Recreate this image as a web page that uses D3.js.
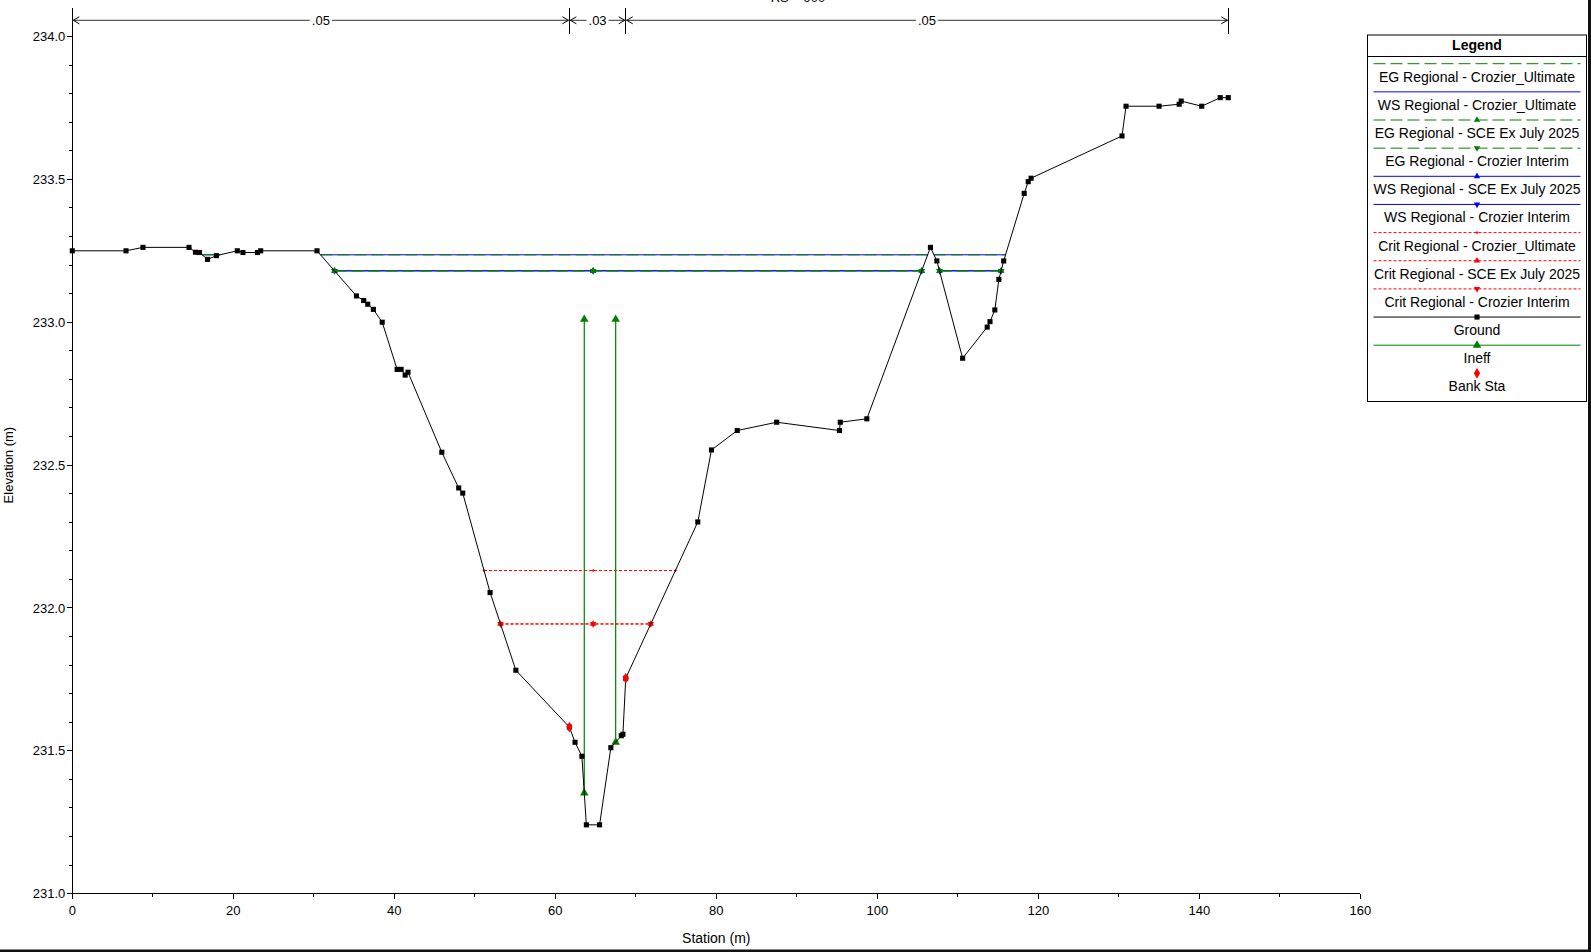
<!DOCTYPE html>
<html>
<head>
<meta charset="utf-8">
<script src="https://cdn.jsdelivr.net/npm/d3@7"></script>
<style>
  html, body { margin: 0; padding: 0; background: #fff; }
  svg { display: block; font-family: "Liberation Sans", Arial, sans-serif; }
</style>
</head>
<body>
<svg id="chart" width="1591" height="952"></svg>
<script>
// ---------------- DATA ----------------
const groundSta = [0, 6.67, 8.78, 14.5, 15.3, 15.8, 16.8, 17.9, 20.5, 21.2, 23.0, 23.4, 30.4,
  35.3, 36.2, 36.7, 37.4, 38.5, 40.35, 40.85, 41.35, 41.7, 45.9, 48.0, 48.5, 51.9, 55.1,
  61.75, 62.45, 63.3, 63.86, 65.5, 66.9, 68.2, 68.4, 68.75, 77.7, 79.4, 82.6, 87.5, 95.3,
  95.4, 98.7, 106.6, 107.4, 110.6, 113.65, 114.0, 114.6, 115.1, 115.7, 118.25, 118.75,
  119.1, 130.4, 130.9, 135.0, 137.5, 137.75, 140.3, 142.6, 143.6];
const groundElev = [233.25, 233.25, 233.262, 233.262, 233.245, 233.244, 233.22, 233.233, 233.25,
  233.244, 233.244, 233.25, 233.25, 233.092, 233.076, 233.063, 233.045, 233.0, 232.835,
  232.835, 232.815, 232.825, 232.545, 232.42, 232.402, 232.054, 231.782, 231.583, 231.53,
  231.481, 231.241, 231.241, 231.511, 231.553, 231.558, 231.754, 232.301, 232.553, 232.621,
  232.65, 232.621, 232.65, 232.662, 233.262, 233.2145, 232.874, 232.983, 233.002, 233.043,
  233.15, 233.2145, 233.451, 233.492, 233.504, 233.652, 233.756, 233.756, 233.763, 233.774,
  233.756, 233.786, 233.786];

const bankSta = [61.75, 68.75];
const nBreakSta = [0, 61.75, 68.75, 143.6];
const nValues = [".05", ".03", ".05"];
const ineffSta = [63.6, 67.5];
const ineffElev = [233.01, 233.01];

const planNames = ["Crozier_Ultimate", "SCE Ex July 2025", "Crozier Interim"];
const egElev   = [233.236, 233.18, 233.18];
const wsElev   = [233.236, 233.18, 233.18];
const critElev = [232.131, 231.944, 231.944];
const centerMarkSta = 64.7;

const xTicks = [0, 20, 40, 60, 80, 100, 120, 140, 160];
const yTicks = [231.0, 231.5, 232.0, 232.5, 233.0, 233.5, 234.0];

const legendLabels = [
  "EG Regional - Crozier_Ultimate",
  "WS Regional - Crozier_Ultimate",
  "EG Regional - SCE Ex July 2025",
  "EG Regional - Crozier Interim",
  "WS Regional - SCE Ex July 2025",
  "WS Regional - Crozier Interim",
  "Crit Regional - Crozier_Ultimate",
  "Crit Regional - SCE Ex July 2025",
  "Crit Regional - Crozier Interim",
  "Ground",
  "Ineff",
  "Bank Sta"
];

// ---------------- STYLE ----------------
const GREEN = "#008000", BLUE = "#0000ff", RED = "#ff0000", BLACK = "#000";
const EG_DASH = "12,5", CRIT_DASH = "3,2";
const planMarker = ["none", "up", "down"];

const svg = d3.select("#chart");
const x = d3.scaleLinear().domain([0, 160]).range([72.3, 1360.3]);
const y = d3.scaleLinear().domain([231, 234]).range([893.7, 36.5]);

const ground = groundSta.map((s, i) => ({s, e: groundElev[i]}));

function groundAt(s) {
  for (let i = 1; i < ground.length; i++) {
    if (s <= ground[i].s) {
      const a = ground[i - 1], b = ground[i];
      return a.e + (s - a.s) / (b.s - a.s) * (b.e - a.e);
    }
  }
  return ground[ground.length - 1].e;
}

function wetSegments(level) {
  const segs = [];
  let cur = null;
  for (let i = 1; i < ground.length; i++) {
    const a = ground[i - 1], b = ground[i];
    const aBelow = a.e < level, bBelow = b.e < level;
    if (aBelow !== bBelow) {
      const t = (level - a.e) / (b.e - a.e);
      const s = a.s + t * (b.s - a.s);
      if (bBelow) cur = [s];
      else if (cur) { cur.push(s); segs.push(cur); cur = null; }
    }
  }
  return segs;
}

function markerStations(segs) {
  const out = [];
  segs.forEach(sg => {
    out.push(sg[0]);
    if (centerMarkSta > sg[0] && centerMarkSta < sg[1]) out.push(centerMarkSta);
    out.push(sg[1]);
  });
  return out;
}

const tri = d3.symbol().type(d3.symbolTriangle);
function drawMarker(g, kind, px, py, color, size) {
  if (kind === "none") return;
  if (kind === "up" || kind === "down") {
    g.append("path").attr("d", tri.size(size)())
      .attr("transform", `translate(${px},${py})` + (kind === "down" ? " rotate(180)" : ""))
      .attr("fill", color);
  } else if (kind === "plus") {
    g.append("path").attr("d", `M${px-1.5},${py}H${px+1.5}M${px},${py-1.5}V${py+1.5}`)
      .attr("stroke", color).attr("stroke-width", 1);
  } else if (kind === "diamond") {
    g.append("path").attr("d", d3.symbol().type(d3.symbolDiamond).size(size)())
      .attr("transform", `translate(${px},${py})`).attr("fill", color);
  } else if (kind === "square") {
    g.append("path").attr("d", d3.symbol().type(d3.symbolSquare).size(size)())
      .attr("transform", `translate(${px},${py})`).attr("fill", color);
  }
}

function drawLevel(g, level, color, dash, marker, msize) {
  const segs = wetSegments(level);
  segs.forEach(sg => {
    g.append("line")
      .attr("x1", x(sg[0])).attr("x2", x(sg[1]))
      .attr("y1", y(level)).attr("y2", y(level))
      .attr("stroke", color).attr("stroke-width", 1)
      .attr("stroke-dasharray", dash || null);
  });
  markerStations(segs).forEach(s => drawMarker(g, marker, x(s), y(level), color, msize));
}

// ---------------- AXES ----------------
const axG = svg.append("g").attr("font-size", 13).attr("fill", "#000");
axG.append("line").attr("x1", x(0)).attr("x2", x(0)).attr("y1", 8).attr("y2", y(231))
  .attr("stroke", "#000").attr("stroke-width", 1).attr("shape-rendering", "crispEdges");
axG.append("line").attr("x1", x(0)).attr("x2", x(160)).attr("y1", y(231)).attr("y2", y(231))
  .attr("stroke", "#000").attr("stroke-width", 1).attr("shape-rendering", "crispEdges");

const yMinor = d3.range(231, 234.001, 0.1);
yMinor.forEach(v => {
  axG.append("line").attr("x1", x(0) - 3).attr("x2", x(0)).attr("y1", y(v)).attr("y2", y(v))
    .attr("stroke", "#000").attr("shape-rendering", "crispEdges");
});
yTicks.forEach(v => {
  axG.append("line").attr("x1", x(0) - 5).attr("x2", x(0)).attr("y1", y(v)).attr("y2", y(v))
    .attr("stroke", "#000").attr("shape-rendering", "crispEdges");
  axG.append("text").attr("x", x(0) - 7).attr("y", y(v)).attr("dy", "0.35em")
    .attr("text-anchor", "end").text(d3.format(".1f")(v));
});
d3.range(10, 160, 20).forEach(v => {
  axG.append("line").attr("x1", x(v)).attr("x2", x(v)).attr("y1", y(231)).attr("y2", y(231) + 3)
    .attr("stroke", "#000").attr("shape-rendering", "crispEdges");
});
xTicks.forEach(v => {
  axG.append("line").attr("x1", x(v)).attr("x2", x(v)).attr("y1", y(231)).attr("y2", y(231) + 5)
    .attr("stroke", "#000").attr("shape-rendering", "crispEdges");
  axG.append("text").attr("x", x(v)).attr("y", y(231) + 21)
    .attr("text-anchor", "middle").text(v);
});
axG.append("text").attr("x", x(80)).attr("y", 943).attr("text-anchor", "middle")
  .attr("font-size", 14).text("Station (m)");
axG.append("text").attr("transform", `translate(13,${(y(231) + y(234)) / 2}) rotate(-90)`)
  .attr("text-anchor", "middle").attr("font-size", 13).text("Elevation (m)");

// title (cut off at the top edge, as in the reference)
svg.append("text").attr("x", 798).attr("y", 1.5).attr("text-anchor", "middle")
  .attr("font-size", 13).text("RS = 900");

// ---------------- MANNING n BAR ----------------
const nG = svg.append("g");
const nY = 20.3;
nBreakSta.forEach(s => {
  nG.append("line").attr("x1", x(s)).attr("x2", x(s)).attr("y1", 8).attr("y2", 34)
    .attr("stroke", "#000").attr("shape-rendering", "crispEdges");
});
nValues.forEach((v, i) => {
  const a = x(nBreakSta[i]), b = x(nBreakSta[i + 1]);
  nG.append("line").attr("x1", a).attr("x2", b).attr("y1", nY).attr("y2", nY)
    .attr("stroke", "#333").attr("stroke-width", 1);
  nG.append("path").attr("d", `M${a+7},${nY-3.5}L${a+1},${nY}L${a+7},${nY+3.5}`)
    .attr("fill", "none").attr("stroke", "#000");
  nG.append("path").attr("d", `M${b-7},${nY-3.5}L${b-1},${nY}L${b-7},${nY+3.5}`)
    .attr("fill", "none").attr("stroke", "#000");
  const t = nG.append("text").attr("x", (a + b) / 2).attr("y", nY).attr("dy", "0.38em")
    .attr("text-anchor", "middle").attr("font-size", 13).text(v);
  const bb = t.node().getBBox();
  nG.insert("rect", "text:last-child").attr("x", bb.x - 2).attr("y", nY - 2)
    .attr("width", bb.width + 4).attr("height", 4).attr("fill", "#fff");
});

// ---------------- WATER LINES ----------------
const wG = svg.append("g");
planNames.forEach((p, i) => drawLevel(wG, wsElev[i], BLUE, null, planMarker[i], 18));
planNames.forEach((p, i) => drawLevel(wG, egElev[i], GREEN, EG_DASH, planMarker[i], 18));
planNames.forEach((p, i) => drawLevel(wG, critElev[i], RED, CRIT_DASH, i === 0 ? "plus" : planMarker[i], 18));

// ---------------- INEFF ----------------
const iG = svg.append("g");
ineffSta.forEach((s, i) => {
  const e0 = groundAt(s);
  iG.append("line").attr("x1", x(s)).attr("x2", x(s)).attr("y1", y(e0)).attr("y2", y(ineffElev[i]))
    .attr("stroke", GREEN).attr("stroke-width", 1.2);
  drawMarker(iG, "up", x(s), y(e0), GREEN, 32);
  drawMarker(iG, "up", x(s), y(ineffElev[i]), GREEN, 32);
});

// ---------------- GROUND ----------------
const gG = svg.append("g");
gG.append("path").datum(ground)
  .attr("d", d3.line().x(d => x(d.s)).y(d => y(d.e)))
  .attr("fill", "none").attr("stroke", BLACK).attr("stroke-width", 1);
gG.selectAll("path.pt").data(ground).join("path").attr("class", "pt")
  .attr("d", d3.symbol().type(d3.symbolSquare).size(26)())
  .attr("transform", d => `translate(${x(d.s)},${y(d.e)})`).attr("fill", BLACK);

bankSta.forEach(s => drawMarker(gG, "diamond", x(s), y(groundAt(s)), RED, 34));

// ---------------- LEGEND ----------------
const L = {x0: 1367.5, y0: 35, x1: 1586.5, y1: 401.5};
const lg = svg.append("g");
lg.append("rect").attr("x", L.x0).attr("y", L.y0).attr("width", L.x1 - L.x0).attr("height", L.y1 - L.y0)
  .attr("fill", "#fff").attr("stroke", "#000").attr("stroke-width", 1);
lg.append("line").attr("x1", L.x0).attr("x2", L.x1).attr("y1", 56.5).attr("y2", 56.5)
  .attr("stroke", "#000");
const cx = (L.x0 + L.x1) / 2;
lg.append("text").attr("x", cx).attr("y", 44.5).attr("dy", "0.36em").attr("text-anchor", "middle")
  .attr("font-size", 14).attr("font-weight", "bold").text("Legend");

const legStyles = [
  {c: GREEN, d: EG_DASH, m: "none"},
  {c: BLUE, d: null, m: "none"},
  {c: GREEN, d: EG_DASH, m: "up"},
  {c: GREEN, d: EG_DASH, m: "down"},
  {c: BLUE, d: null, m: "up"},
  {c: BLUE, d: null, m: "down"},
  {c: RED, d: CRIT_DASH, m: "plus"},
  {c: RED, d: CRIT_DASH, m: "up"},
  {c: RED, d: CRIT_DASH, m: "down"},
  {c: BLACK, d: null, m: "square"},
  {c: GREEN, d: null, m: "up"},
  {c: RED, d: null, m: "diamond", noLine: true}
];
legendLabels.forEach((lab, i) => {
  const ly = 63.7 + i * 28.15;
  const st = legStyles[i];
  if (!st.noLine) {
    lg.append("line").attr("x1", 1373.5).attr("x2", 1580.5).attr("y1", ly).attr("y2", ly)
      .attr("stroke", st.c).attr("stroke-dasharray", st.d);
  }
  const sz = st.m === "square" ? 26 : (st.m === "diamond" ? 34 : (i === 10 ? 32 : 18));
  drawMarker(lg, st.m, cx, ly, st.c, sz);
  lg.append("text").attr("x", cx).attr("y", ly + 13).attr("dy", "0.36em").attr("text-anchor", "middle")
    .attr("font-size", 14).text(lab);
});

// ---------------- FRAME EDGES ----------------
svg.append("rect").attr("x", 1588).attr("y", 0).attr("width", 3).attr("height", 952).attr("fill", "#111");
svg.append("rect").attr("x", 0).attr("y", 949.5).attr("width", 1591).attr("height", 2.5).attr("fill", "#111");
</script>
</body>
</html>
